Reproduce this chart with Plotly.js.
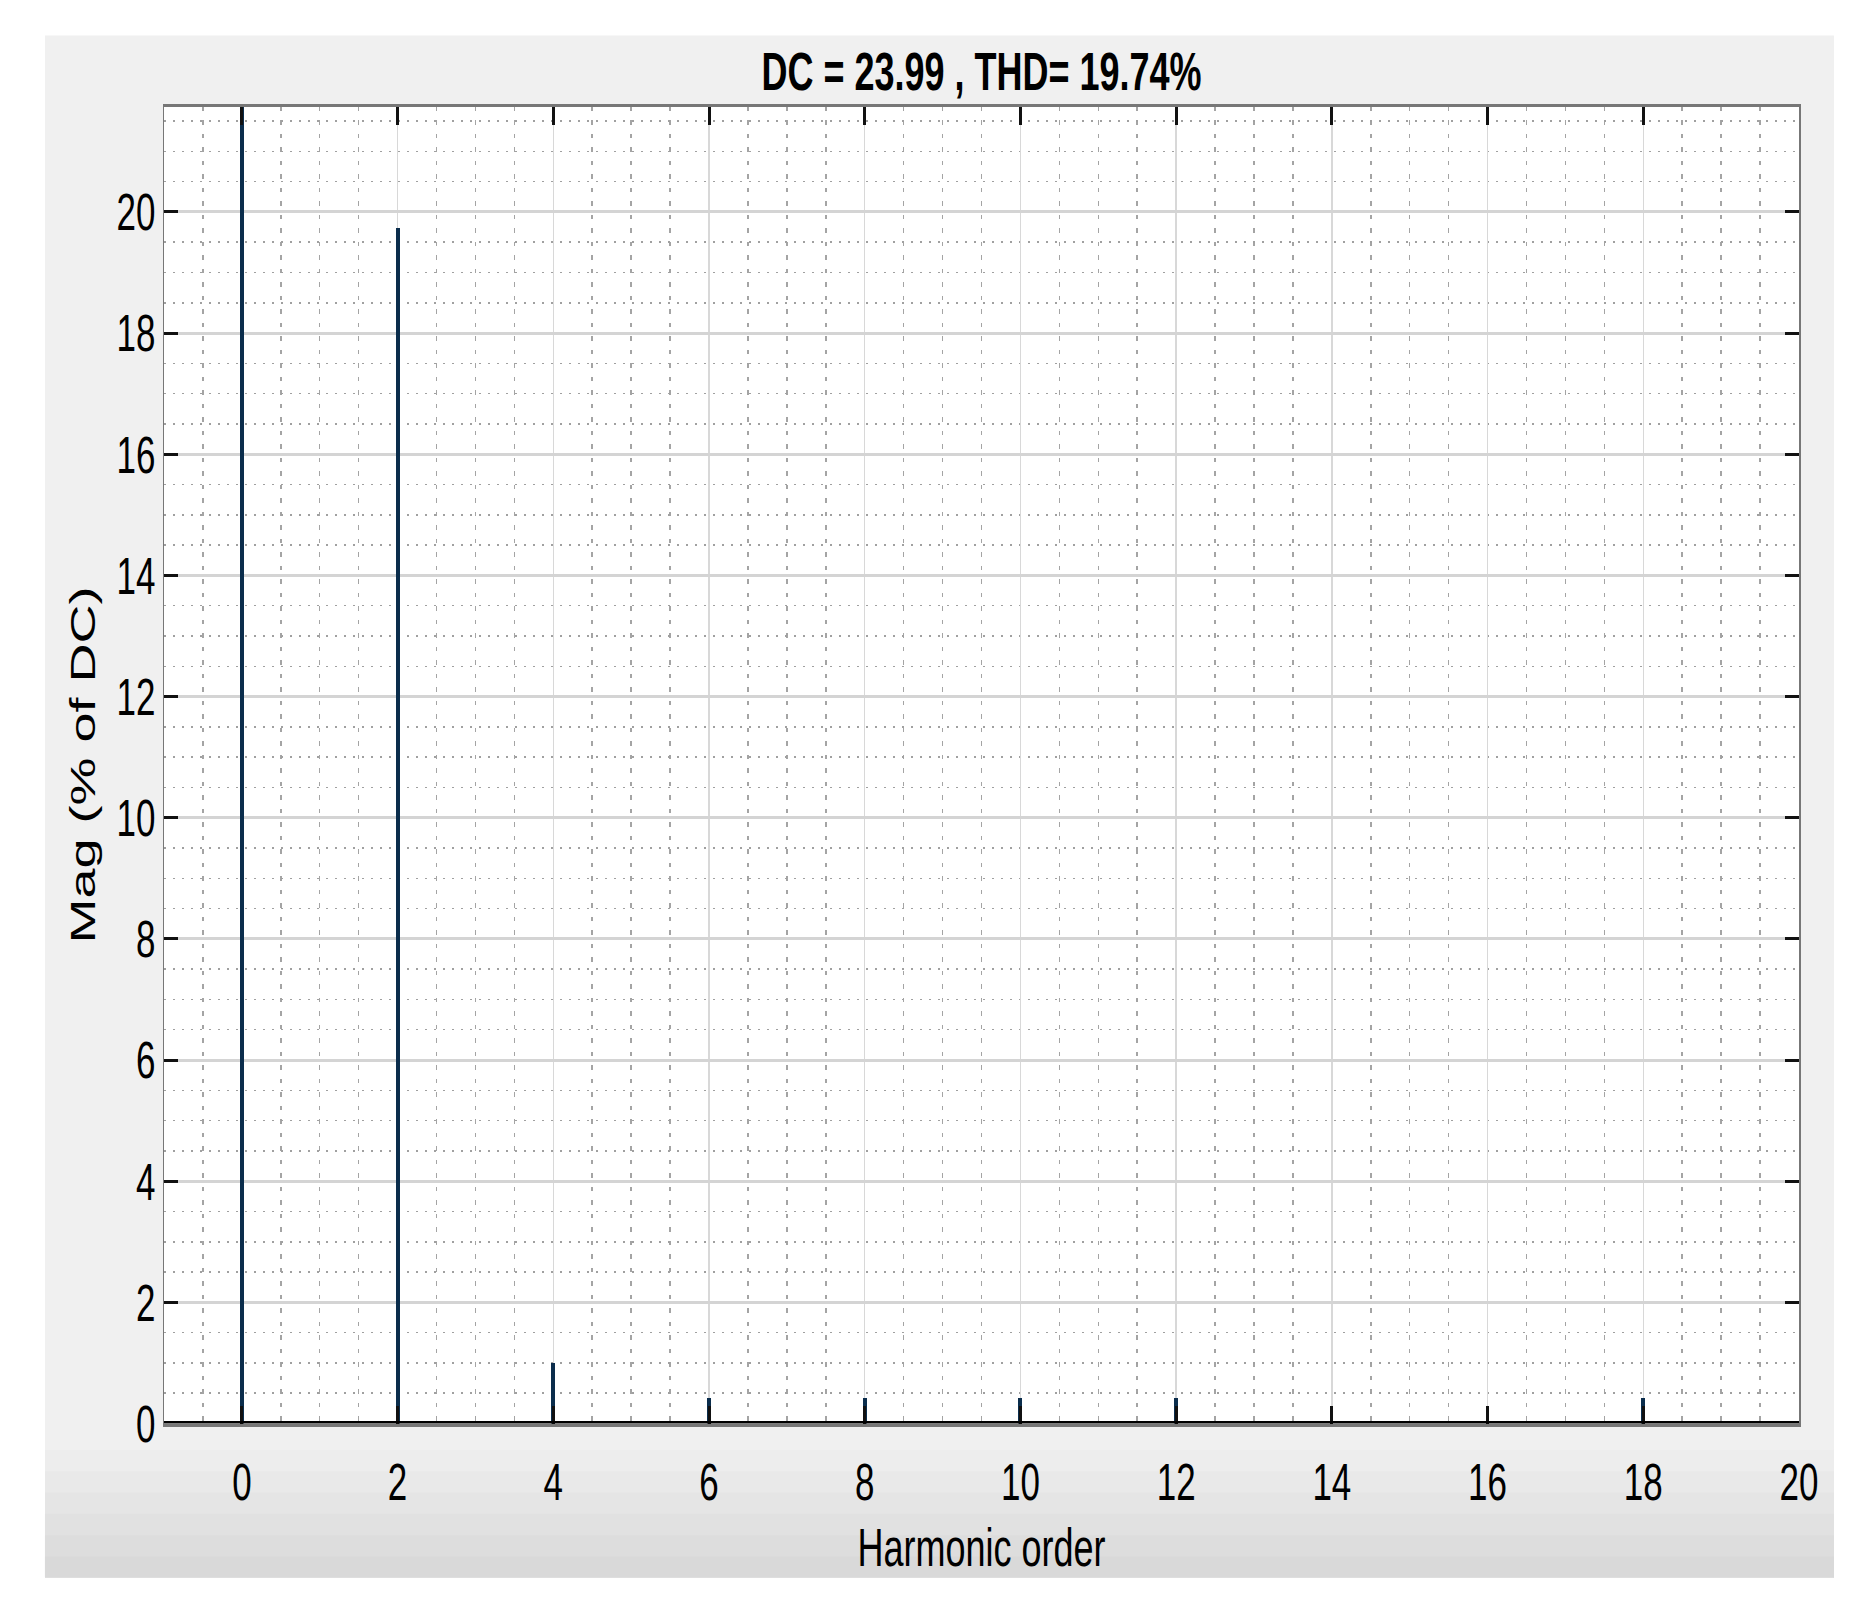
<!DOCTYPE html>
<html>
<head>
<meta charset="utf-8">
<script src="https://cdn.plot.ly/plotly-3.0.1.min.js"></script>
<style>
  html, body { margin: 0; padding: 0; background: #fff; }
  #wrap { width: 1864px; height: 1599px; position: relative; overflow: hidden; }
  #chart { width: 1864px; position: absolute; left: 0; top: 0; transform-origin: 0 0; }
</style>
</head>
<body>
<div id="wrap"><div id="chart"></div></div>
<script>
// harmonic spectrum (DC bar is clipped at the top)
const harmonics  = [0, 2, 4, 6, 8, 10, 12, 18];
const magnitudes = [100, 19.74, 1.0, 0.42, 0.42, 0.42, 0.42, 0.42];
const titleText  = 'DC = 23.99 , THD= 19.74%';
const xLabel = 'Harmonic order';
const yLabel = 'Mag (% of DC)';

// the original figure was captured stretched vertically, so draw it
// at a shorter height and stretch the element back up
const stretch = 1.5;
const W = 1864, H = Math.round(1599 / stretch);
const el = document.getElementById('chart');
el.style.height = H + 'px';
el.style.transform = 'scaleY(' + stretch + ')';

const sans = '"Liberation Sans", Arial, Helvetica, sans-serif';

const trace = {
    type: 'bar',
    x: harmonics,
    y: magnitudes,
    width: 0.05,
    marker: { color: '#0b2d4c', line: { width: 0 } },
    hoverinfo: 'x+y',
    showlegend: false
};

// grey figure panel, darker towards the bottom edge
const panel = { x0: -0.0728, x1: 1.0214, y0: -0.117, y1: 1.054 };
const shapes = [{
    type: 'rect', xref: 'paper', yref: 'paper', layer: 'below',
    x0: panel.x0, x1: panel.x1, y0: panel.y0, y1: panel.y1,
    fillcolor: '#f0f0f0', line: { width: 0 }
}];
const bands = ['#ededed', '#e9e9e9', '#e5e5e5', '#e1e1e1', '#dddddd', '#d9d9d9'];
bands.forEach((c, i) => {
    shapes.push({
        type: 'rect', xref: 'paper', yref: 'paper', layer: 'below',
        x0: panel.x0, x1: panel.x1, y0: panel.y0, y1: -0.02 - i * 0.0162,
        fillcolor: c, line: { width: 0 }
    });
});
// white axes background on top of the panel
shapes.push({
    type: 'rect', xref: 'paper', yref: 'paper', layer: 'below',
    x0: 0, x1: 1, y0: 0, y1: 1, fillcolor: '#ffffff', line: { width: 0 }
});
// heavy baseline
shapes.push({
    type: 'line', xref: 'paper', yref: 'y', layer: 'above',
    x0: 0, x1: 1, y0: 0, y1: 0, line: { color: '#000000', width: 3.4 }
});

const tickFont = { family: sans, size: 35, color: '#000000' };

const layout = {
    width: W,
    height: H,
    paper_bgcolor: '#ffffff',
    plot_bgcolor: '#ffffff',
    margin: { l: 164, r: 65, t: Math.round(107 / stretch), b: Math.round(175 / stretch) },
    bargap: 0,
    title: {
        text: titleText,
        xref: 'paper', x: 0.5, xanchor: 'center',
        yref: 'container', y: 0.9556, yanchor: 'middle',
        font: { family: sans, size: 36, color: '#000000', weight: 'bold' }
    },
    xaxis: {
        range: [-1, 20],
        tick0: 0, dtick: 2,
        ticks: 'inside', ticklen: 12, tickwidth: 3, tickcolor: '#111111',
        showline: true, linecolor: '#777777', linewidth: 2, mirror: 'ticks',
        showgrid: true, gridcolor: '#d8d8d8', gridwidth: 1.5,
        zeroline: false,
        tickfont: tickFont,
        ticklabelstandoff: 7,
        minor: {
            dtick: 0.5, showgrid: true, gridcolor: '#a4a4a4',
            gridwidth: 1.5, griddash: '3px,6px'
        },
        title: {
            text: xLabel,
            standoff: 13,
            font: { family: sans, size: 36, color: '#000000' }
        }
    },
    yaxis: {
        range: [0, 21.74],
        tick0: 0, dtick: 2,
        ticks: 'inside', ticklen: 14, tickwidth: 2, tickcolor: '#111111',
        showline: true, linecolor: '#777777', linewidth: 1.5, mirror: 'ticks',
        showgrid: true, gridcolor: '#d4d4d4', gridwidth: 2,
        zeroline: false,
        tickfont: tickFont,
        ticklabelstandoff: 0,
        minor: {
            dtick: 0.5, showgrid: true, gridcolor: '#a0a0a0',
            gridwidth: 1, griddash: '2px,7px'
        },
        title: {
            text: yLabel,
            standoff: 10,
            font: { family: sans, size: 36, color: '#000000' }
        }
    },
    shapes: shapes
};

Plotly.newPlot(el, [trace], layout, { displayModeBar: false, staticPlot: true });
</script>
</body>
</html>
